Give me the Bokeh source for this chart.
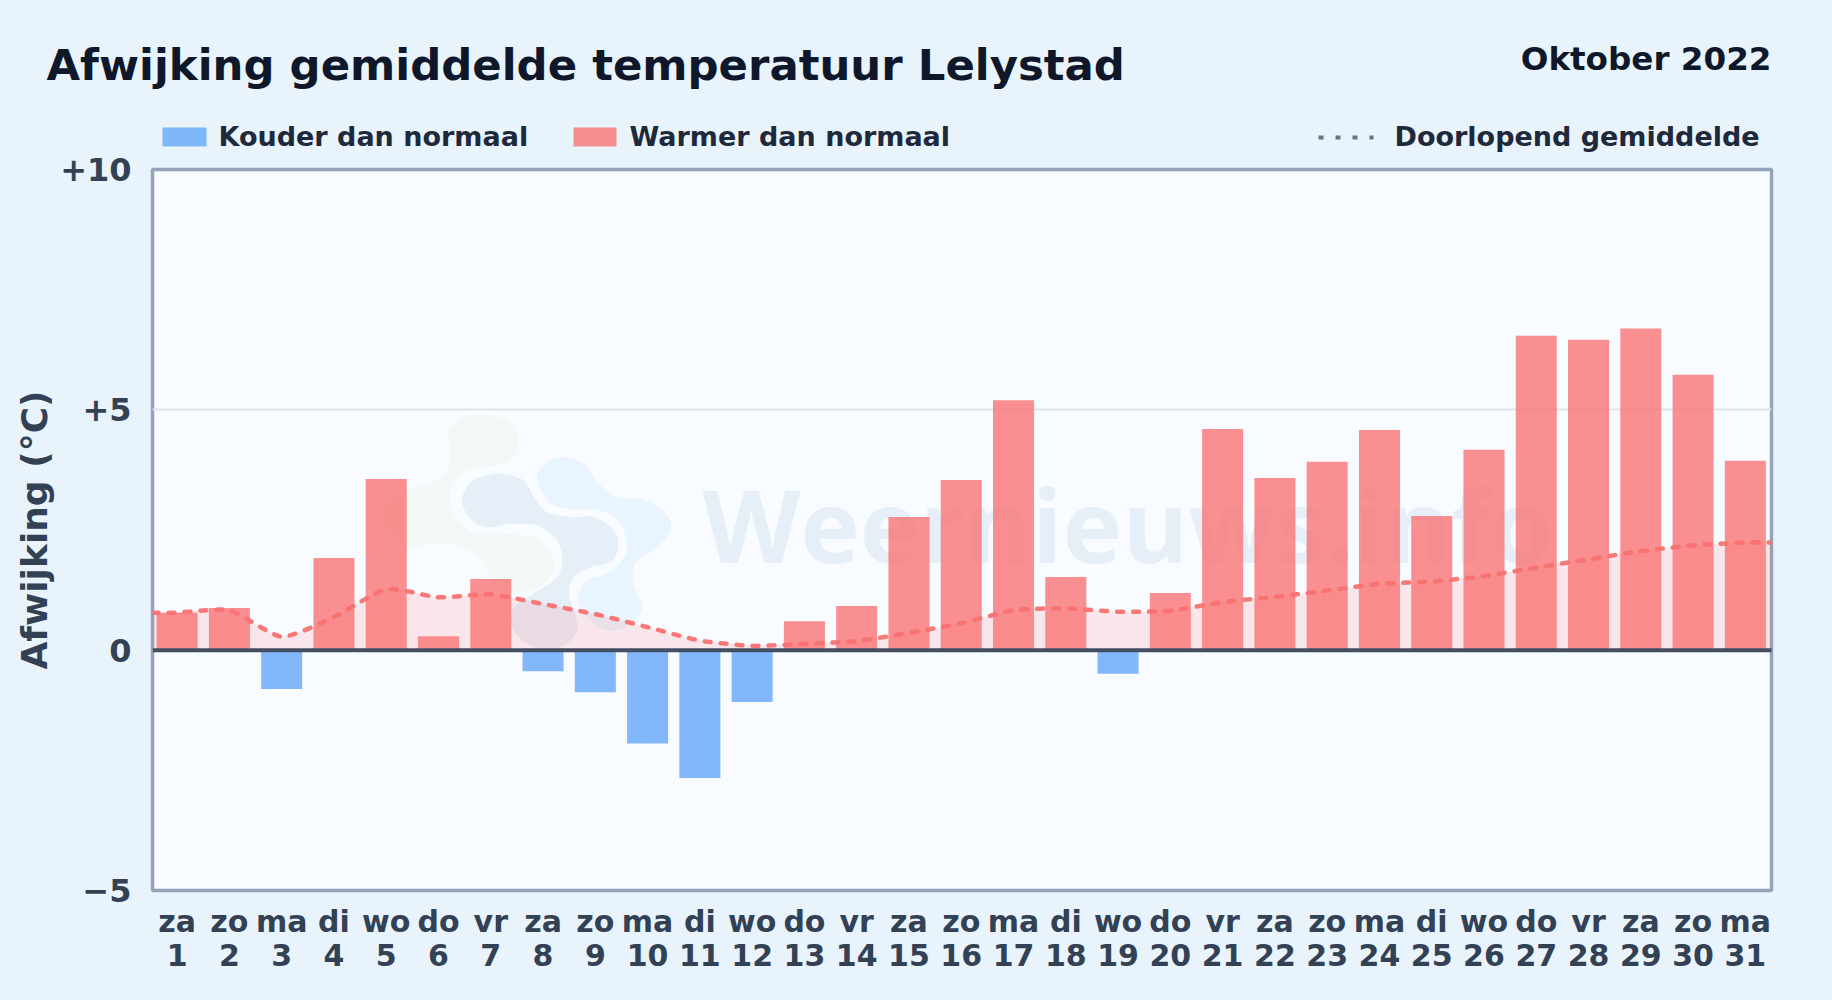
from bokeh.embed import file_html
from bokeh.resources import INLINE
from bokeh.plotting import figure
from bokeh.layouts import column
from bokeh.models import ColumnDataSource, Range1d, FixedTicker, LinearAxis
from bokeh.core.properties import value
import numpy as np

# ---- data ----
weekdays = ["za","zo","ma","di","wo","do","vr","za","zo","ma","di","wo","do","vr","za","zo",
            "ma","di","wo","do","vr","za","zo","ma","di","wo","do","vr","za","zo","ma"]
days = list(range(1, 32))
deviation = [0.78,0.875,-0.81,1.92,3.56,0.29,1.48,-0.44,-0.875,-1.94,-2.66,-1.08,0.60,0.92,2.77,3.54,
             5.20,1.52,-0.49,1.19,4.60,3.58,3.92,4.58,2.79,4.17,6.54,6.46,6.69,5.73,3.94]
running_mean = [0.78,0.83,0.28,0.69,1.27,1.10,1.16,0.96,0.75,0.48,0.20,0.09,0.13,0.19,0.36,0.56,
                0.83,0.87,0.80,0.82,1.00,1.11,1.24,1.38,1.43,1.54,1.72,1.89,2.06,2.18,2.24]
y_ticks = [-5, 0, 5, 10]
y_tick_labels = ["\u22125", "0", "+5", "+10"]
title_text = "Afwijking gemiddelde temperatuur Lelystad"
period_text = "Oktober 2022"
legend_cold = "Kouder dan normaal"
legend_warm = "Warmer dan normaal"
legend_mean = "Doorlopend gemiddelde"

XMIN, XMAX = 0.529, 31.5
YMIN, YMAX = -5, 10
PAGE_W, PAGE_H, HEAD_H, OVERLAP = 1832, 1000, 160, 30
FRAME_L, FRAME_R, FRAME_T, FRAME_B = 152, 1771, 169, 890   # page pixels
FONT = "DejaVu Sans"
BASE_SHIFT = 0.41   # bokeh's alphabetic text box sits this many em under the anchor

# ---- small helpers ----
def smooth(xs, ys, n=14, t=0.1):
    """cubic curve through the points, as a chart's line tension draws it"""
    xs, ys = np.asarray(xs, float), np.asarray(ys, float)
    X, Y = [], []
    for i in range(len(xs) - 1):
        a, b = max(i - 1, 0), min(i + 2, len(xs) - 1)
        c1x, c1y = xs[i] + t * (xs[i + 1] - xs[a]), ys[i] + t * (ys[i + 1] - ys[a])
        c2x, c2y = xs[i + 1] - t * (xs[b] - xs[i]), ys[i + 1] - t * (ys[b] - ys[i])
        u = np.linspace(0, 1, n, endpoint=False)
        X.extend((1-u)**3*xs[i] + 3*(1-u)**2*u*c1x + 3*(1-u)*u**2*c2x + u**3*xs[i+1])
        Y.extend((1-u)**3*ys[i] + 3*(1-u)**2*u*c1y + 3*(1-u)*u**2*c2y + u**3*ys[i+1])
    X.append(xs[-1]); Y.append(ys[-1])
    return np.array(X), np.array(Y)

def px2x(px):
    return XMIN + (np.asarray(px, float) - FRAME_L) / (FRAME_R - FRAME_L) * (XMAX - XMIN)

def px2y(py):
    return YMAX - (np.asarray(py, float) - FRAME_T) / (FRAME_B - FRAME_T) * (YMAX - YMIN)

def blob(points):
    """closed smooth watermark shape from crop coordinates"""
    pts = np.array(points, float)
    px, py = 360 + pts[:, 0] / 3, 390 + pts[:, 1] / 3
    m = len(px)
    wx = np.r_[px[-1], px, px[0], px[1]]
    wy = np.r_[py[-1], py, py[0], py[1]]
    X, Y = smooth(wx, wy, n=8, t=0.17)
    return px2x(X[8:8 * (m + 1) + 1]), px2y(Y[8:8 * (m + 1) + 1])

# ---- header strip: title, period, legend ----
head = figure(width=PAGE_W, height=HEAD_H, output_backend="svg", toolbar_location=None,
              x_range=Range1d(0, PAGE_W), y_range=Range1d(HEAD_H, 0),
              x_axis_type=None, y_axis_type=None, frame_align=False,
              min_border_left=0, min_border_right=0, min_border_top=0, min_border_bottom=0)
head.grid.visible = False
head.outline_line_color = None
head.background_fill_color = None
head.border_fill_color = None

def htext(s, x, y, size, color, align="left"):
    head.text(x=[x], y=[y - BASE_SHIFT * size], text=[s], text_font=value(FONT), text_font_style="bold",
              text_font_size=f"{size}px", text_color=color, text_align=align, text_baseline="alphabetic")

htext(title_text, 46, 82, 43.4, "#0f172a")
htext(period_text, 1771, 72.3, 32.6, "#0f172a", align="right")
head.quad(left=[162], right=[206], top=[127], bottom=[146], fill_color="#60a5fa", fill_alpha=0.78, line_color=None)
head.quad(left=[573], right=[616], top=[127], bottom=[146], fill_color="#f87171", fill_alpha=0.78, line_color=None)
head.line(x=[1318, 1373], y=[137, 137], line_color="#64748b", line_width=4, line_dash="5 12")
htext(legend_cold, 218, 147, 27, "#1e293b")
htext(legend_warm, 629, 147, 27, "#1e293b")
htext(legend_mean, 1394, 147, 27, "#1e293b")

# ---- main chart ----
p = figure(width=PAGE_W, height=PAGE_H - HEAD_H + OVERLAP, output_backend="svg", toolbar_location=None,
           x_range=Range1d(XMIN, XMAX), y_range=Range1d(YMIN, YMAX), frame_align=False,
           margin=(-OVERLAP, 0, 0, 0),
           min_border_left=FRAME_L, min_border_right=PAGE_W - FRAME_R,
           min_border_top=FRAME_T - HEAD_H + OVERLAP, min_border_bottom=PAGE_H - FRAME_B)
p.background_fill_color = "#f8fbff"
p.border_fill_color = None
p.outline_line_color = "#94a3b8"
p.outline_line_width = 3.5

p.xgrid.visible = False
p.ygrid.ticker = FixedTicker(ticks=y_ticks)
p.ygrid.grid_line_color = "#dfe5ec"
p.ygrid.grid_line_width = 2

p.yaxis.ticker = FixedTicker(ticks=y_ticks)
p.yaxis.major_label_overrides = dict(zip(y_ticks, y_tick_labels))
p.xaxis.ticker = FixedTicker(ticks=days)
p.xaxis.major_label_overrides = dict(zip(days, weekdays))
day_axis = LinearAxis(ticker=FixedTicker(ticks=days),
                      major_label_overrides={d: str(d) for d in days})
p.add_layout(day_axis, "below")
for ax, size in ((p.xaxis[0], "30px"), (day_axis, "30px"), (p.yaxis[0], "32px")):
    ax.axis_line_color = None
    ax.major_tick_line_color = None
    ax.minor_tick_line_color = None
    ax.major_label_text_font = FONT
    ax.major_label_text_font_style = "bold"
    ax.major_label_text_font_size = size
    ax.major_label_text_color = "#334155"
p.yaxis.major_label_standoff = 15
p.xaxis[0].major_label_standoff = 7
day_axis.major_label_standoff = -4
p.yaxis.axis_label = "Afwijking (\u00b0C)"
p.yaxis.axis_label_text_font = FONT
p.yaxis.axis_label_text_font_style = "bold"
p.yaxis.axis_label_text_font_size = "36px"
p.yaxis.axis_label_text_color = "#334155"
p.yaxis.axis_label_standoff = 2

# ---- watermark ----
green = [(370,72),(450,95),(475,165),(440,215),(340,235),(285,265),(268,330),(290,385),(350,430),(450,432),
         (530,445),(580,510),(560,570),(500,605),(420,590),(380,540),(350,490),(280,462),(200,462),(130,470),
         (70,400),(80,330),(140,300),(220,275),(265,230),(270,160),(265,120),(310,80)]
navy = [(425,250),(490,270),(520,320),(560,365),(630,380),(700,380),(760,420),(772,470),(750,515),(690,530),
        (640,560),(625,610),(640,660),(650,720),(600,770),(520,770),(460,720),(455,660),(510,615),(580,570),
        (605,520),(590,450),(530,405),(450,400),(380,410),(330,385),(305,330),(330,275),(380,255)]
sky = [(610,200),(670,220),(710,275),(770,320),(850,328),(915,370),(930,420),(890,470),(830,510),(815,560),
       (830,610),(845,650),(810,700),(755,722),(700,700),(660,650),(655,610),(680,570),(740,550),(785,510),
       (800,470),(780,400),(720,360),(620,355),(560,330),(530,260),(560,215)]
for shape, col, a in ((green, "#7ac943", 0.05), (navy, "#1e5fa8", 0.08), (sky, "#38a6f0", 0.08)):
    bx, by = blob(shape)
    p.patch(bx, by, fill_color=col, fill_alpha=a, line_color=None)
p.text(x=[px2x(702)], y=[px2y(565 - BASE_SHIFT * 101)], text=["Weernieuws.info"], text_font=value("Open Sans"),
       text_font_style="bold", text_font_size="101px", text_color="#1e5fa8", text_alpha=0.08,
       text_baseline="alphabetic", text_align="left")

# ---- running mean: area ----
line_x = [XMIN] + days + [XMAX]
line_y = [running_mean[0]] + running_mean + [running_mean[-1]]
sx, sy = smooth(line_x, line_y)
p.varea(x=sx, y1=0, y2=sy, fill_color="#f87171", fill_alpha=0.15)

# ---- bars ----
warm_src = ColumnDataSource(dict(x=[d for d, v in zip(days, deviation) if v >= 0],
                                 top=[v for v in deviation if v >= 0]))
cold_src = ColumnDataSource(dict(x=[d for d, v in zip(days, deviation) if v < 0],
                                 top=[v for v in deviation if v < 0]))
p.vbar(x="x", top="top", bottom=0, width=0.785, source=warm_src,
       fill_color="#f87171", fill_alpha=0.78, line_color=None)
p.vbar(x="x", top="top", bottom=0, width=0.785, source=cold_src,
       fill_color="#60a5fa", fill_alpha=0.78, line_color=None)

# zero line
p.ray(x=[XMIN], y=[0], length=0, angle=0, line_color="#434e63", line_width=4)

# ---- running mean: line ----
p.line(sx, sy, line_color="#f87171", line_width=4.5, line_dash="6 10", line_cap="round", line_alpha=0.95)

layout = column(head, p, spacing=0)

html = file_html(layout, INLINE).replace(
    "</head>", "<style>html,body{overflow:hidden;background:#e9f3fb}</style></head>", 1)
open("out.html", "w").write(html)
